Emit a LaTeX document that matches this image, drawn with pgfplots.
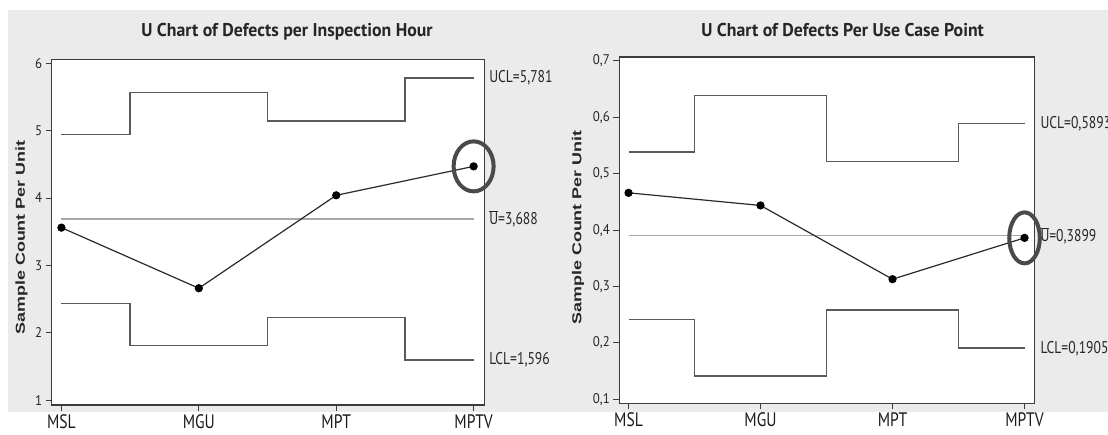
\documentclass[border=0pt]{standalone}
\usepackage{pgfplots}
\pgfplotsset{compat=1.18}
\usepackage{fontspec}
\setmainfont{PT Sans}
\newfontfamily\titlefont{PT Sans}[FakeStretch=0.96]
\newfontfamily\ticklabfont{PT Sans}[FakeStretch=0.8]
\newfontfamily\numfont{PT Sans}[FakeStretch=0.92]
\newfontfamily\limfont{PT Sans}[FakeStretch=0.8]
\newfontfamily\ylabfont{Liberation Sans}[FakeStretch=1.38]
\definecolor{bg}{HTML}{EBEBEB}
\definecolor{limc}{HTML}{5A5A5A}
\definecolor{cenc}{HTML}{A8A8A8}
\definecolor{datc}{HTML}{2A2A2A}
\definecolor{axc}{HTML}{3C3C3C}
\definecolor{ringc}{HTML}{4A4A4A}
\tikzset{lab/.style={anchor=west, inner sep=0pt, font=\limfont\fontsize{17}{17}\selectfont, text=black!85}}
\pgfplotsset{uchart/.style={
  scale only axis, clip=false,
  axis line style={axc, line width=1.3pt},
  axis background/.style={fill=white},
  xtick={0,1,2,3}, xticklabels={MSL,MGU,MPT,MPTV},
  xtick pos=bottom, ytick pos=left, tick align=outside,
  major tick length=6pt, tick style={axc, line width=1pt},
  xticklabel style={font=\ticklabfont\fontsize{19.5}{19.5}\selectfont, text=black!90, inner sep=1pt, yshift=-2pt},
  yticklabel style={font=\numfont\fontsize{14}{14}\selectfont, text=black!85},
  /pgf/number format/assume math mode=true,
  limline/.style={limc, line width=1.6pt},
  cenline/.style={cenc, line width=1.2pt},
  datline/.style={datc, line width=1.2pt, mark=*, mark size=3.5pt, mark options={fill=black, draw=black}},
}}
\begin{document}
\begin{tikzpicture}[x=1pt,y=1pt]
\path[use as bounding box] (0,0) rectangle (1108,-435);
\fill[bg] (7.9,-10.3) rectangle (1108,-412);
% ---------- left chart ----------
\begin{axis}[uchart, at={(51.8pt,-405pt)}, anchor=south west,
  width=432.8pt, height=345.7pt,
  xmin=-0.070, xmax=3.080, ymin=0.926, ymax=6.06,
  ytick={1,2,3,4,5,6}, yticklabels={1,2,3,4,5,6}]
\addplot[limline] coordinates {(0,4.945) (0.5,4.945) (0.5,5.568) (1.5,5.568) (1.5,5.148) (2.5,5.148) (2.5,5.781) (3,5.781)};
\addplot[limline] coordinates {(0,2.431) (0.5,2.431) (0.5,1.808) (1.5,1.808) (1.5,2.228) (2.5,2.228) (2.5,1.596) (3,1.596)};
\addplot[cenline] coordinates {(0,3.688) (3,3.688)};
\addplot[datline] coordinates {(0,3.56) (1,2.66) (2,4.04) (3,4.47)};
\addplot[only marks, mark=o, mark size=25pt, mark options={xscale=0.8, line width=4pt, draw=ringc}] coordinates {(3,4.47)};
\node[lab, xshift=4.5pt] at (axis cs:3.08,5.781) {UCL=5,781};
\node[lab, xshift=4.5pt] at (axis cs:3.08,3.688) {\ensuremath{\overline{\mbox{U}}}=3,688};
\node[lab, xshift=4.5pt] at (axis cs:3.08,1.596) {LCL=1,596};
\end{axis}
% ---------- right chart ----------
\begin{axis}[uchart, at={(619.4pt,-403.3pt)}, anchor=south west,
  width=414.9pt, height=346.3pt,
  xmin=-0.069, xmax=3.074, ymin=0.0929, ymax=0.7071,
  ytick={0.1,0.2,0.3,0.4,0.5,0.6,0.7}, yticklabels={{0,1},{0,2},{0,3},{0,4},{0,5},{0,6},{0,7}}]
\addplot[limline] coordinates {(0,0.5385) (0.5,0.5385) (0.5,0.6385) (1.5,0.6385) (1.5,0.5215) (2.5,0.5215) (2.5,0.5893) (3,0.5893)};
\addplot[limline] coordinates {(0,0.2413) (0.5,0.2413) (0.5,0.1414) (1.5,0.1414) (1.5,0.2583) (2.5,0.2583) (2.5,0.1905) (3,0.1905)};
\addplot[cenline] coordinates {(0,0.3899) (3,0.3899)};
\addplot[datline] coordinates {(0,0.4662) (1,0.4438) (2,0.313) (3,0.3863)};
\addplot[only marks, mark=o, mark size=25.5pt, mark options={xscale=0.6, line width=4pt, draw=ringc}] coordinates {(3,0.3863)};
\node[lab, xshift=6pt] at (axis cs:3.074,0.5893) {UCL=0,5893};
\node[lab, xshift=6pt] at (axis cs:3.074,0.3899) {\ensuremath{\overline{\mbox{U}}}=0,3899};
\node[lab, xshift=6pt] at (axis cs:3.074,0.1905) {LCL=0,1905};
\end{axis}
% ---------- titles and axis labels ----------
\node[font=\titlefont\bfseries\fontsize{18.5}{18.5}\selectfont, text=black!85] at (287,-31.7) {U Chart of Defects per Inspection Hour};
\node[font=\titlefont\bfseries\fontsize{18.5}{18.5}\selectfont, text=black!85] at (842.6,-30) {U Chart of Defects Per Use Case Point};
\node[rotate=90, font=\ylabfont\bfseries\fontsize{13}{13}\selectfont, text=black!85] at (21.5,-237.5) {Sample Count Per Unit};
\node[rotate=90, font=\ylabfont\bfseries\fontsize{13}{13}\selectfont, text=black!85] at (578,-227.5) {Sample Count Per Unit};
\end{tikzpicture}
\end{document}
